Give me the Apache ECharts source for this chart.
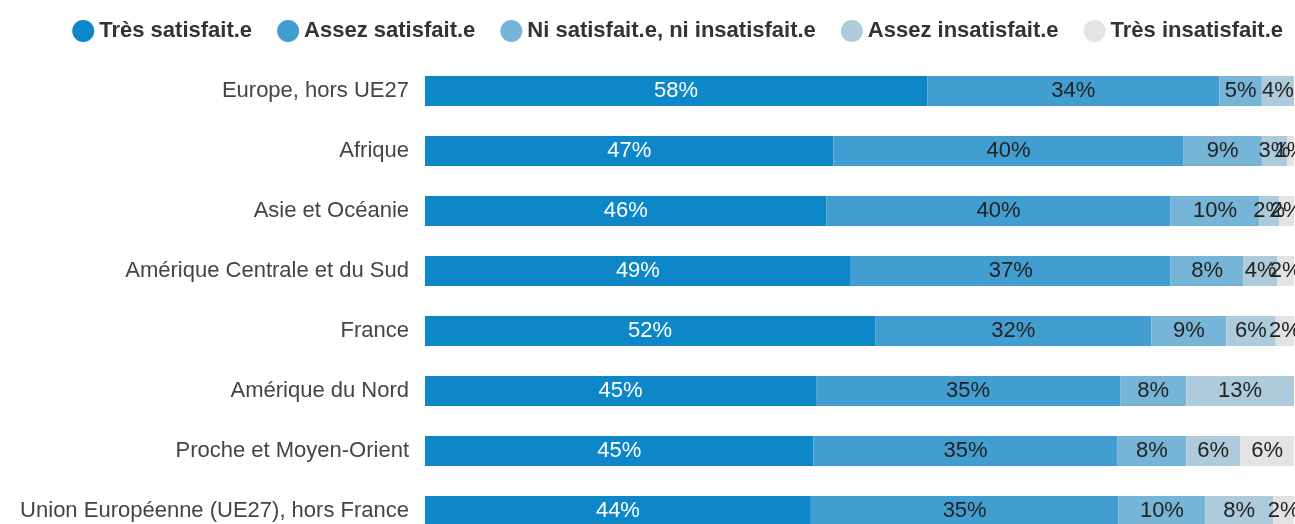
<!DOCTYPE html>
<html>
<head>
<meta charset="utf-8">
<script src="https://cdn.jsdelivr.net/npm/echarts@6/dist/echarts.min.js"></script>
<style>
    html,body{margin:0;padding:0;background:#fff;}
    #chart{width:1295px;height:524px;}
</style>
</head>
<body>
<div id="chart"></div>
<script>
    // categories, top to bottom
    var regions = ["Europe, hors UE27", "Afrique", "Asie et Océanie", "Amérique Centrale et du Sud",
        "France", "Amérique du Nord", "Proche et Moyen-Orient", "Union Européenne (UE27), hors France"];

    var seriesNames = ["Très satisfait.e", "Assez satisfait.e", "Ni satisfait.e, ni insatisfait.e",
        "Assez insatisfait.e", "Très insatisfait.e"];
    var colors = ["#0e87c9", "#429dd1", "#76b4d8", "#aecbdc", "#e3e3e3"];

    // valeurs en %
    var tresSatisfait   = [57.8, 47.0, 46.2, 49.0, 51.8, 45.0, 44.7, 44.4];
    var assezSatisfait  = [33.6, 40.3, 39.6, 36.8, 31.8, 35.0, 35.0, 35.4];
    var niNi            = [4.9, 9.0, 10.2, 8.4, 8.6, 7.6, 7.9, 10.0];
    var assezInsatisf   = [3.7, 2.9, 2.3, 3.9, 5.7, 12.6, 6.2, 7.8];
    var tresInsatisf    = [0, 0.8, 1.7, 1.9, 2.1, 0, 6.2, 2.4];
    var values = [tresSatisfait, assezSatisfait, niNi, assezInsatisf, tresInsatisf];

    var chart = echarts.init(document.getElementById("chart"));

    var series = [];
    for (var i = 0; i < seriesNames.length; i++) {
        series.push({
            name: seriesNames[i],
            type: "bar",
            stack: "total",
            barWidth: "50%",
            data: values[i],
            itemStyle: {color: colors[i]},
            label: {
                show: true,
                position: "inside",
                fontFamily: "Liberation Sans, Arial",
                fontSize: 22,
                color: i == 0 ? "#fff" : "#222",
                formatter: function (p) {
                    if (!p.value) return "";
                    return Math.round(p.value) + "%";
                }
            }
        });
    }

    chart.setOption({
        animation: false,
        legend: {
            top: 15,
            right: 7,
            icon: "circle",
            itemWidth: 22,
            itemHeight: 22,
            itemGap: 25,
            textStyle: {fontFamily: "Liberation Sans, Arial", fontSize: 22, fontWeight: "bold", color: "#333"}
        },
        // la derniere ligne deborde en bas de l'image
        grid: {left: 425, right: 1, top: 61, height: 480, outerBoundsMode: "none", containLabel: false},
        xAxis: {type: "value", min: 0, max: 100, show: false},
        yAxis: {
            type: "category",
            inverse: true,
            data: regions,
            axisLine: {show: false},
            axisTick: {show: false},
            axisLabel: {fontFamily: "Liberation Sans, Arial", fontSize: 22, color: "#444", margin: 16}
        },
        series: series
    });
</script>
</body>
</html>
